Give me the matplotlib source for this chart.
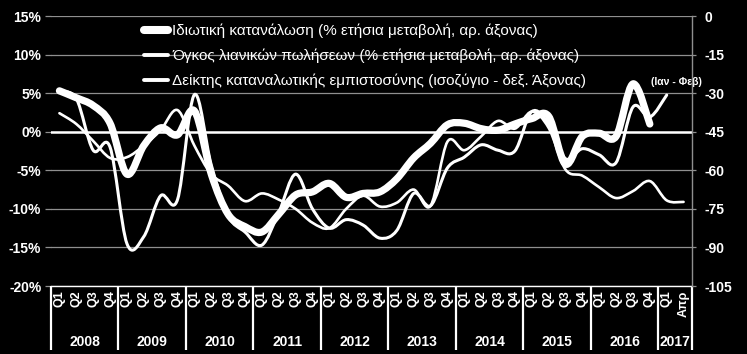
import numpy as np
import matplotlib
matplotlib.use('Agg')
import matplotlib.pyplot as plt
from matplotlib.path import Path
from matplotlib.patches import PathPatch
from matplotlib.lines import Line2D
import matplotlib.transforms as mtransforms
from matplotlib.ticker import FuncFormatter, MultipleLocator

plt.rcParams['font.family'] = ['Liberation Sans', 'DejaVu Sans']

# ---------------- data ----------------
quarters = ['Q1', 'Q2', 'Q3', 'Q4'] * 9 + ['Q1', 'Απρ']
years = [str(y) for y in range(2008, 2017) for _ in range(4)] + ['2017', '2017']

# Private consumption, % y/y (left axis), 2008Q1-2016Q4
consumption = [5.3, 4.4, 3.4, 1.1,
               -5.5, -1.8, 0.5, -0.4,
               2.7, -5.5, -10.7, -12.3,
               -13.0, -10.7, -8.2, -7.8,
               -6.7, -8.5, -8.0, -7.8,
               -6.1, -3.4, -1.5, 0.9,
               1.1, 0.4, 0.2, 1.0,
               1.7, 2.0, -4.2, -0.6,
               -0.2, -0.6, 6.2, 1.0]

# Retail sales volume, % y/y (left axis), 2008Q1-2017Q1 (Jan-Feb)
retail = [5.2, 4.3, -2.4, -2.0,
          -14.5, -13.6, -8.3, -8.8,
          4.8, -4.3, -10.9, -13.0,
          -14.7, -10.5, -5.5, -10.0,
          -12.5, -11.4, -12.1, -13.8,
          -12.8, -8.0, -9.6, -4.7,
          -3.3, -1.7, -2.4, -2.5,
          2.6, 1.0, -3.5, -2.2,
          -3.0, -4.0, 3.2, 1.9,
          4.75]

# Consumer confidence, balance (right axis), 2008Q1-2017 April
confidence = [-37.8, -42.0, -48.6, -55.2,
              -54.9, -50.4, -44.4, -36.6,
              -50.4, -61.5, -66.0, -72.0,
              -69.0, -71.4, -75.0, -80.4,
              -82.5, -75.0, -69.9, -74.1,
              -72.6, -67.5, -73.8, -48.9,
              -52.2, -46.8, -40.8, -43.8,
              -37.2, -43.5, -59.7, -62.1,
              -66.6, -70.8, -68.1, -64.2,
              -71.7, -72.3]

labels = ['Ιδιωτική κατανάλωση (% ετήσια μεταβολή, αρ. άξονας)',
          'Όγκος λιανικών πωλήσεων (% ετήσια μεταβολή, αρ. άξονας)',
          'Δείκτης καταναλωτικής εμπιστοσύνης (ισοζύγιο - δεξ. Άξονας)']
note = '(Ιαν - Φεβ)'

# ---------------- helpers ----------------
def smooth_path(xs, ys):
    pts = np.column_stack([xs, ys]).astype(float)
    n = len(pts)
    verts = [tuple(pts[0])]
    codes = [Path.MOVETO]
    for i in range(n - 1):
        p0 = pts[i - 1] if i > 0 else pts[i]
        p1 = pts[i]
        p2 = pts[i + 1]
        p3 = pts[i + 2] if i + 2 < n else pts[i + 1]
        c1 = p1 + (p2 - p0) / 6.0
        c2 = p2 - (p3 - p1) / 6.0
        verts += [tuple(c1), tuple(c2), tuple(p2)]
        codes += [Path.CURVE4] * 3
    return Path(verts, codes)

def draw_smooth(ax, ys, lw, z):
    xs = np.arange(len(ys))
    patch = PathPatch(smooth_path(xs, ys), facecolor='none', edgecolor='white',
                      lw=lw, capstyle='round', joinstyle='round', zorder=z)
    ax.add_patch(patch)

# ---------------- figure ----------------
W, H = 747, 354
fig = plt.figure(figsize=(W / 100, H / 100), dpi=100, facecolor='black')
L, R, T, B = 51, 692, 16, 286
ax = fig.add_axes([L / W, (H - B) / H, (R - L) / W, (B - T) / H])
ax.set_facecolor('black')
ax2 = ax.twinx()
ax2.set_facecolor('none')

n = len(quarters)
ax.set_xlim(-0.5, n - 0.5)
ax.set_ylim(-20, 15)
ax2.set_ylim(-105, 0)

grid_c = '#8f8f8f'
ax.yaxis.set_major_locator(MultipleLocator(5))
ax2.yaxis.set_major_locator(MultipleLocator(15))
ax.yaxis.grid(True, color=grid_c, lw=0.9, zorder=0)
ax.set_axisbelow(True)
ax.axhline(0, color='white', lw=1.8, zorder=1)

for s in ['top', 'left', 'right']:
    ax.spines[s].set_visible(False)
for s in ['top', 'left', 'bottom']:
    ax2.spines[s].set_visible(False)
ax.spines['bottom'].set_color('white')
ax.spines['bottom'].set_linewidth(1.0)
ax2.spines['right'].set_color(grid_c)
ax2.spines['right'].set_linewidth(1.0)

ax.yaxis.set_major_formatter(FuncFormatter(lambda v, p: f'{v:.0f}%'))
ax2.yaxis.set_major_formatter(FuncFormatter(lambda v, p: f'{v:.0f}'))
ax.tick_params(axis='y', colors=grid_c, labelcolor='white', length=4, width=0.9,
               labelsize=10, pad=3)
ax2.tick_params(axis='y', colors=grid_c, labelcolor='white', length=3, width=0.9,
                labelsize=10, pad=6)
for t in ax.get_yticklabels() + ax2.get_yticklabels():
    t.set_fontweight('bold')

ax.set_xticks(np.arange(n))
ax.set_xticklabels(quarters, rotation=90, fontsize=9, fontweight='bold',
                   color='white', va='top', ha='center')
ax.tick_params(axis='x', length=0, pad=3)

# year separators and labels
trans = mtransforms.blended_transform_factory(ax.transData, ax.transAxes)
bounds = [-0.5] + [i - 0.5 for i in range(1, n) if years[i] != years[i - 1]] + [n - 0.5]
for b in bounds:
    ax.plot([b, b], [0, -0.237], transform=trans, color='white', lw=1.6,
            clip_on=False, solid_capstyle='butt')
for a, b in zip(bounds[:-1], bounds[1:]):
    ax.text((a + b) / 2, -0.206, years[int(a + 0.5)], transform=trans, ha='center',
            va='center', fontsize=10, fontweight='bold', color='white')

# series
draw_smooth(ax, consumption, 5.2, 5)
draw_smooth(ax, retail, 2.2, 4)
draw_smooth(ax2, confidence, 1.9, 4)

ax.text(36.6, 6.4, note, ha='center', va='center', fontsize=7.5,
        fontweight='bold', color='white', zorder=6)

handles = [Line2D([], [], color='white', lw=5.8, solid_capstyle='round'),
           Line2D([], [], color='white', lw=2.8, solid_capstyle='round'),
           Line2D([], [], color='white', lw=2.8, solid_capstyle='round')]
leg = fig.legend(handles, labels, loc='upper left',
                 bbox_to_anchor=(144 / W, (H - 24) / H), frameon=False,
                 fontsize=11, labelcolor='white', handlelength=1.6,
                 handletextpad=0.25, labelspacing=0.68, borderpad=0,
                 borderaxespad=0)

fig.savefig('out.png', dpi=100, facecolor='black')
